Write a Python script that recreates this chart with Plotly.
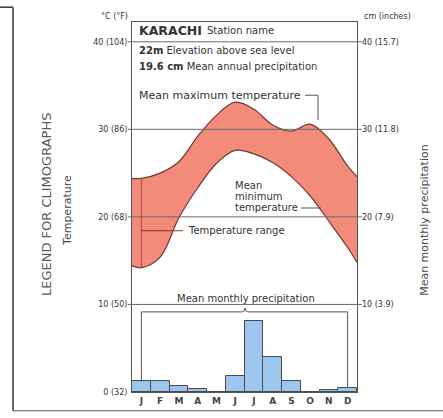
import plotly.graph_objects as go

# ---------------- data ----------------
months = ["J", "F", "M", "A", "M", "J", "J", "A", "S", "O", "N", "D"]
month_pos = [1, 2, 3, 4, 5, 6, 7, 8, 9, 10, 11, 12]
# temperature curves read at the plot edges and at each month centre
temp_pos = [0.5, 1, 2, 3, 4, 5, 6, 7, 8, 9, 10, 11, 12, 12.5]
temp_max = [24.4, 24.4, 25.0, 26.3, 29.2, 31.6, 33.1, 32.3, 30.5, 29.8, 30.6, 28.9, 25.8, 24.6]
temp_min = [14.4, 14.2, 15.4, 19.9, 23.3, 26.1, 27.6, 27.2, 26.2, 24.6, 22.4, 19.5, 16.5, 14.8]
# mean monthly precipitation (cm)
precip = [1.2, 1.2, 0.7, 0.35, 0.05, 1.8, 8.1, 4.0, 1.3, 0.0, 0.2, 0.5]

temp_ticks = [0, 10, 20, 30, 40]
temp_labels = ["0 (32)", "10 (50)", "20 (68)", "30 (86)", "40 (104)"]
precip_ticks = [10, 20, 30, 40]
precip_labels = ["10 (3.9)", "20 (7.9)", "30 (11.8)", "40 (15.7)"]

# ---------------- styling ----------------
W, H = 443, 418
L, R, T, B = 132, 357, 22, 396
FONT = "DejaVu Sans"
TXT = "#333333"
FILL = "#f28b79"
CURVE = "#6b3a30"
GRID = "#6a6a6a"
YMAX = 42.26


def px(x):
    return (x - L) / (R - L)


def py(y):
    return (B - y) / (B - T)


fig = go.Figure()

fig.add_trace(go.Scatter(
    x=temp_pos, y=temp_min, mode="lines",
    line=dict(color=CURVE, width=1.2, shape="spline", smoothing=1.0),
    hoverinfo="skip", showlegend=False))
fig.add_trace(go.Scatter(
    x=temp_pos, y=temp_max, mode="lines", fill="tonexty", fillcolor=FILL,
    line=dict(color=CURVE, width=1.2, shape="spline", smoothing=1.0),
    hoverinfo="skip", showlegend=False))

fig.add_trace(go.Bar(
    x=month_pos, y=precip, width=1, yaxis="y2",
    marker=dict(color="#9cc6ee", line=dict(color="#4a4a4a", width=1)),
    hoverinfo="skip", showlegend=False))

shapes = []
# grid lines drawn above the fill
for t in temp_ticks[1:]:
    shapes.append(dict(type="line", xref="paper", yref="y", x0=px(128), x1=px(362),
                       y0=t, y1=t, layer="above", line=dict(color=GRID, width=1)))

# temperature range indicator at January
shapes.append(dict(type="line", xref="x", yref="y", x0=month_pos[0], x1=month_pos[0],
                   y0=temp_min[1], y1=temp_max[1], layer="above",
                   line=dict(color="#b0473a", width=1)))
shapes.append(dict(type="line", xref="x", yref="paper", x0=month_pos[0], x1=3.22,
                   y0=py(233), y1=py(233), layer="above",
                   line=dict(color="#7a3b30", width=1)))
# mean maximum temperature hook
shapes.append(dict(type="path", xref="paper", yref="paper", layer="above",
                   path=f"M {px(305)} {py(96)} L {px(318)} {py(96)} L {px(318)} {py(121)}",
                   line=dict(color="#555555", width=1)))
# mean minimum temperature pointer
shapes.append(dict(type="line", xref="paper", yref="paper", x0=px(301), x1=px(321),
                   y0=py(210), y1=py(210), layer="above",
                   line=dict(color="#555555", width=1)))
# precipitation bracket
yb = 9.15
shapes.append(dict(type="path", xref="x", yref="y2", layer="above",
                   path=(f"M {month_pos[0]} {precip[0]} V {yb} H 6.38 "
                         f"Q 6.53 {yb} 6.53 {yb + 0.45} Q 6.53 {yb} 6.68 {yb} "
                         f"H {month_pos[-1]} V {precip[-1]}"),
                   line=dict(color="#555555", width=1)))
# outer legend frame
shapes.append(dict(type="line", xref="paper", yref="paper", x0=px(13), x1=px(13),
                   y0=py(7), y1=py(415), line=dict(color="#333333", width=1.5)))
shapes.append(dict(type="line", xref="paper", yref="paper", x0=px(0), x1=px(13),
                   y0=py(7), y1=py(7), line=dict(color="#333333", width=1.5)))
shapes.append(dict(type="line", xref="paper", yref="paper", x0=px(13), x1=px(443),
                   y0=py(415), y1=py(415), line=dict(color="#555555", width=1)))

ann = []


def add(text, x, y, size=10, xa="left", ya="middle", angle=0, color=TXT):
    ann.append(dict(text=text, x=px(x), y=py(y), xref="paper", yref="paper",
                    showarrow=False, xanchor=xa, yanchor=ya, textangle=angle,
                    font=dict(family=FONT, size=size, color=color)))


add("°C (°F)", 130, 16, size=8, xa="right")
add("cm (inches)", 362, 16, size=8)
add("<b>KARACHI</b>", 137, 31, size=12.5)
add("Station name", 205, 31, size=10)
add("<b>22m</b> Elevation above sea level", 137, 51, size=10)
add("<b>19.6 cm</b> Mean annual precipitation", 137, 67, size=10)
add("Mean maximum temperature", 137, 96, size=11)
add("Mean", 233, 187, size=10)
add("minimum", 233, 198, size=10)
add("temperature", 233, 210, size=10)
add("Temperature range", 186, 233, size=10)
add("Mean monthly precipitation", 246, 301, size=10, xa="center")
add("LEGEND FOR CLIMOGRAPHS", 46, 207, size=13, xa="center", angle=-90, color="#5a5a5a")
add("Temperature", 68, 213, size=11, xa="center", angle=-90, color="#4a4a4a")
add("Mean monthly precipitation", 425, 222, size=11, xa="center", angle=-90, color="#4a4a4a")

fig.update_layout(
    width=W, height=H, autosize=False,
    margin=dict(l=L, r=W - R, t=T, b=H - B, pad=0),
    paper_bgcolor="white", plot_bgcolor="white",
    font=dict(family=FONT, color=TXT),
    bargap=0,
    xaxis=dict(range=[0.5, 12.5], tickvals=month_pos, ticktext=[f"<b>{m}</b>" for m in months],
               showgrid=False, zeroline=False, showline=True, mirror=True,
               linecolor="#555555", linewidth=1, ticks="",
               tickfont=dict(family=FONT, size=9, color="#444444")),
    yaxis=dict(range=[0, YMAX], tickvals=temp_ticks, ticktext=temp_labels,
               showgrid=False, zeroline=False, showline=True, mirror=True,
               linecolor="#555555", linewidth=1, ticks="", ticklabelstandoff=2,
               tickfont=dict(family=FONT, size=8, color=TXT)),
    yaxis2=dict(range=[0, YMAX], overlaying="y", side="right",
                tickvals=precip_ticks, ticktext=precip_labels,
                showgrid=False, zeroline=False, showline=False, ticks="",
                ticklabelstandoff=4,
                tickfont=dict(family=FONT, size=8, color=TXT)),
    shapes=shapes, annotations=ann,
)

fig.write_html("out.html", config={"displayModeBar": False},
               post_script="document.body.style.margin='0';document.body.style.overflow='hidden';")
